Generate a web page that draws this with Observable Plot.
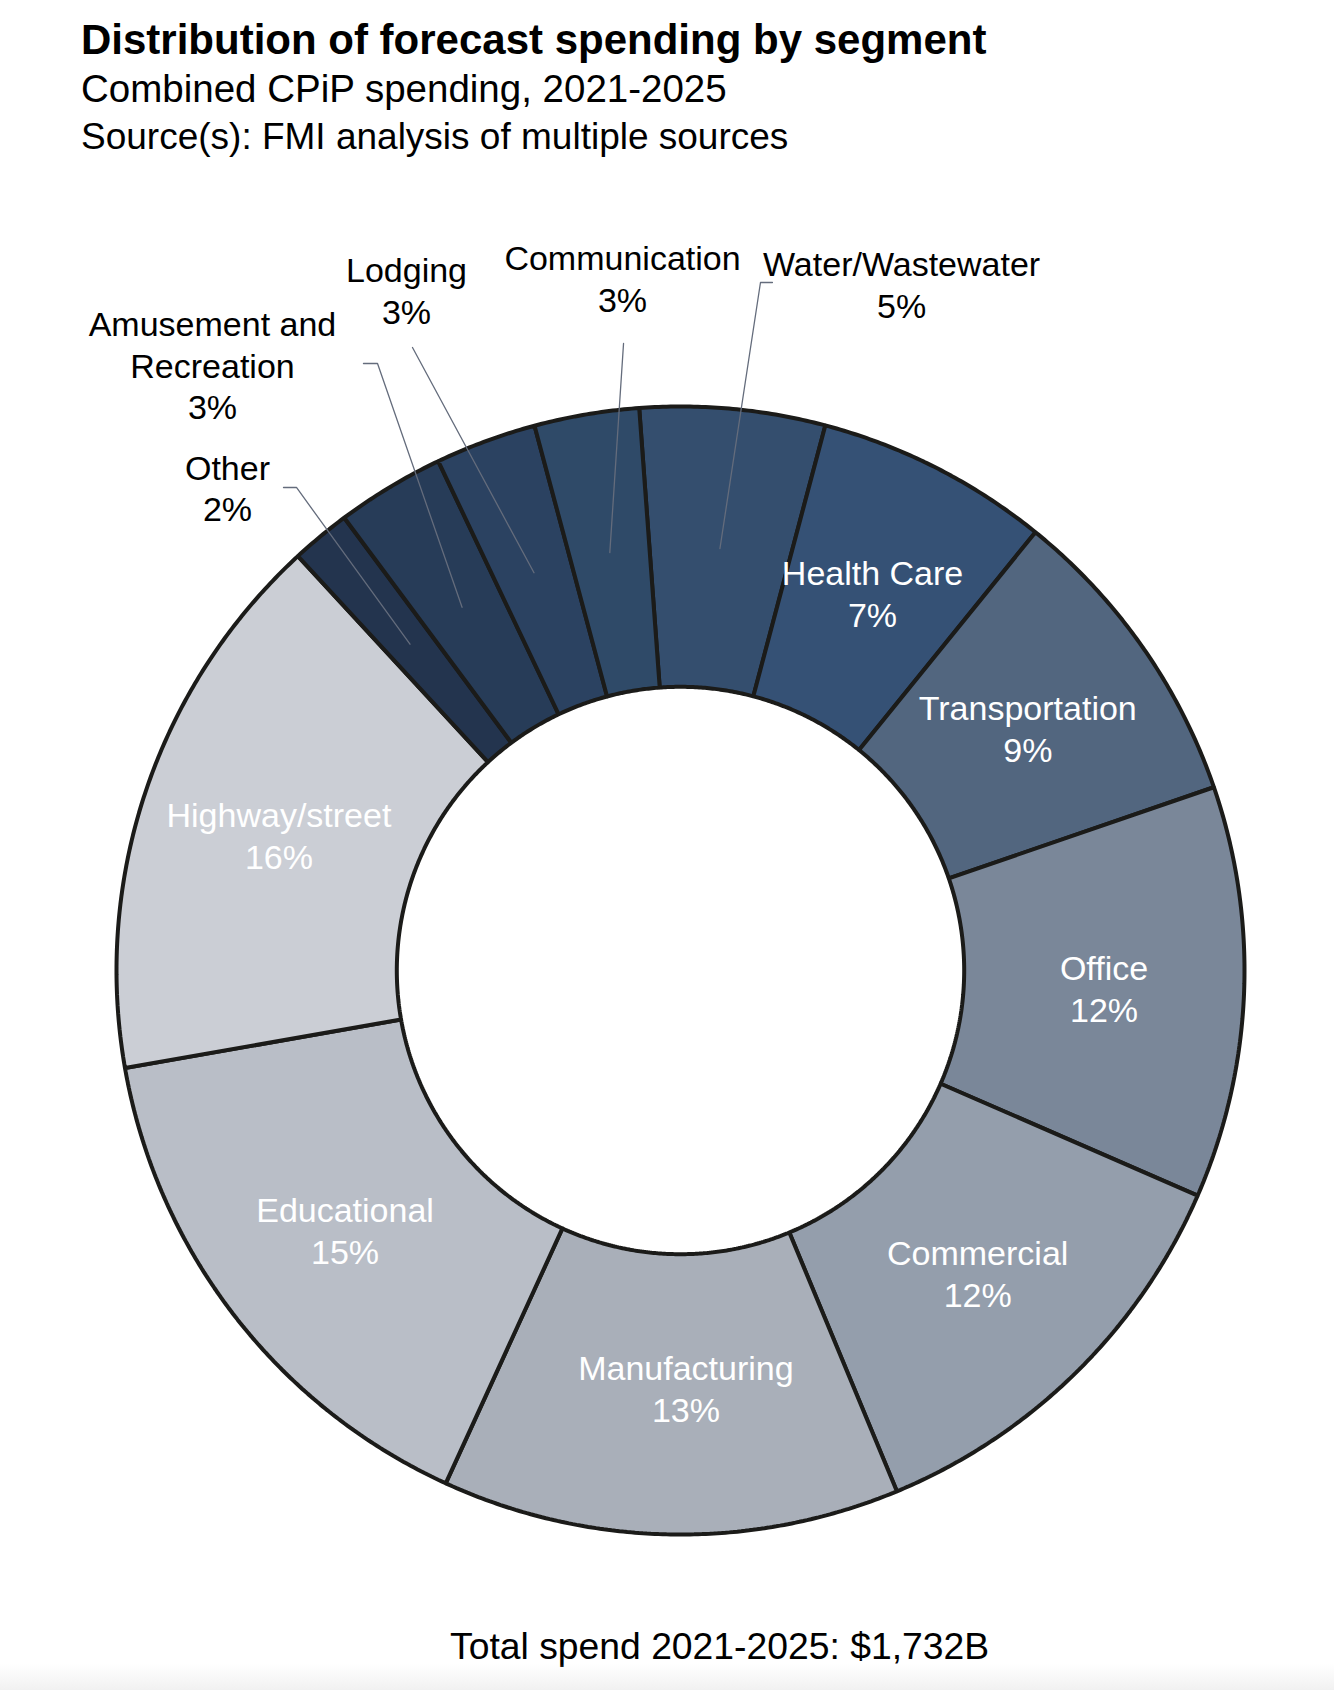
<!DOCTYPE html>
<html>
<head>
<meta charset="utf-8">
<script src="https://cdn.jsdelivr.net/npm/d3@7"></script>
<script src="https://cdn.jsdelivr.net/npm/@observablehq/plot@0.6"></script>
<style>
  html, body { margin: 0; padding: 0; background: #ffffff; }
  body { width: 1334px; height: 1690px; position: relative; overflow: hidden;
         font-family: "Liberation Sans", Arial, Helvetica, sans-serif; color: #000; }
  .t { position: absolute; white-space: nowrap; line-height: 1; }
  #title { left: 81px; top: 19px; font-size: 42px; font-weight: bold; }
  #subtitle { left: 81px; top: 70px; font-size: 38.5px; }
  #source { left: 81px; top: 118px; font-size: 37px; }
  #chart { position: absolute; left: 0; top: 190px; }
  #caption { left: 450px; top: 1628px; font-size: 37.3px; }
  #fade { position: absolute; left: 0; bottom: 0; width: 1334px; height: 26px;
          background: linear-gradient(rgba(255,255,255,0), #f1f1f1); }
</style>
</head>
<body>
<div class="t" id="title">Distribution of forecast spending by segment</div>
<div class="t" id="subtitle">Combined CPiP spending, 2021-2025</div>
<div class="t" id="source">Source(s): FMI analysis of multiple sources</div>
<div id="chart"></div>
<div class="t" id="caption">Total spend 2021-2025: $1,732B</div>
<div id="fade"></div>
<script>
// ---- data (clockwise from the top) ----
const segments = ["Water/Wastewater", "Health Care", "Transportation", "Office", "Commercial",
  "Manufacturing", "Educational", "Highway/street", "Other", "Amusement and Recreation",
  "Lodging", "Communication"];
const labelNames = ["Water/Wastewater", "Health Care", "Transportation", "Office", "Commercial",
  "Manufacturing", "Educational", "Highway/street", "Other", "Amusement and\nRecreation",
  "Lodging", "Communication"];
const shares = [5.3, 6.7, 8.9, 11.8, 12.2, 13.1, 15.4, 15.9, 1.7, 3.1, 2.9, 3.0];
const colors = ["#344e6e", "#355175", "#52667f", "#7a8799", "#949eac", "#a9afb9",
  "#b9bec7", "#cbced5", "#23344e", "#273c58", "#2b4261", "#2f4a68"];

// ---- layout (chart units: 1 = outer radius, origin = donut centre) ----
const startDeg = -4.2;
const innerRatio = 0.503;
const R = 564, W = 1334, H = 1400, cx = 680, cy = 780;
// small nudges of inside labels away from the slice centroid
const labelNudge = {"Manufacturing": [0.023, 0.012]};
// outside labels: label centre and leader-line start (chart units)
const outside = [
  {name: "Water/Wastewater", lx: 0.392, ly: 1.218, leader: [[0.163, 1.2199], [0.1418, 1.2199]]},
  {name: "Communication", lx: -0.1028, ly: 1.2287, leader: [[-0.101, 1.1117]]},
  {name: "Lodging", lx: -0.4858, ly: 1.2074, leader: [[-0.4752, 1.1046]]},
  {name: "Amusement and Recreation", lx: -0.8298, ly: 1.0745, leader: [[-0.5621, 1.0762], [-0.5372, 1.0762]]},
  {name: "Other", lx: -0.8032, ly: 0.8564, leader: [[-0.7039, 0.8564], [-0.6809, 0.8564]]}
];

// ---- derived geometry ----
const total = d3.sum(shares);
let acc = startDeg;
const slices = segments.map((name, i) => {
  const a0 = acc, a1 = acc + shares[i] / total * 360;
  acc = a1;
  const mid = (a0 + a1) / 2 * Math.PI / 180, rm = (1 + innerRatio) / 2;
  return {name, label: labelNames[i], share: shares[i], a0, a1,
          mx: rm * Math.sin(mid), my: rm * Math.cos(mid)};
});
const rad = d => d * Math.PI / 180;
const polyPts = [];
for (const s of slices) {
  const n = Math.max(2, Math.ceil((s.a1 - s.a0) / 0.4));
  for (let k = 0; k <= n; k++) {
    const a = rad(s.a0 + (s.a1 - s.a0) * k / n);
    polyPts.push({name: s.name, x: Math.sin(a), y: Math.cos(a)});
  }
  for (let k = n; k >= 0; k--) {
    const a = rad(s.a0 + (s.a1 - s.a0) * k / n);
    polyPts.push({name: s.name, x: innerRatio * Math.sin(a), y: innerRatio * Math.cos(a)});
  }
}
const byName = new Map(slices.map(s => [s.name, s]));
const outsideSet = new Set(outside.map(o => o.name));
const insideLabels = slices.filter(s => !outsideSet.has(s.name))
  .map(s => {
    const [nx, ny] = labelNudge[s.name] || [0, 0];
    return {x: s.mx + nx, y: s.my + ny, text: s.label + "\n" + Math.round(s.share) + "%"};
  });
const outsideLabels = outside.map(o => {
  const s = byName.get(o.name);
  return {x: o.lx, y: o.ly, text: s.label + "\n" + Math.round(s.share) + "%"};
});
const leaderPts = [];
for (const o of outside) {
  const s = byName.get(o.name);
  for (const [x, y] of o.leader) leaderPts.push({name: o.name, x, y});
  leaderPts.push({name: o.name, x: s.mx, y: s.my});
}

const chart = Plot.plot({
  width: W, height: H, margin: 0,
  style: {fontFamily: "Liberation Sans, Arial, Helvetica, sans-serif", background: "transparent"},
  x: {domain: [-cx / R, (W - cx) / R], axis: null},
  y: {domain: [-(H - cy) / R, cy / R], axis: null},
  color: {domain: segments, range: colors},
  marks: [
    Plot.line(polyPts, {x: "x", y: "y", z: "name", fill: "name", stroke: "#1b1b19",
      strokeWidth: 4, strokeLinejoin: "miter", curve: "linear-closed"}),
    Plot.line(leaderPts, {x: "x", y: "y", z: "name", stroke: "#646c7c", strokeWidth: 1.3}),
    Plot.text(insideLabels, {x: "x", y: "y", text: "text", fill: "#ffffff", fontSize: 34,
      lineHeight: 1.24}),
    Plot.text(outsideLabels, {x: "x", y: "y", text: "text", fill: "#000000", fontSize: 34,
      lineHeight: 1.22})
  ]
});
document.getElementById("chart").appendChild(chart);
</script>
</body>
</html>
